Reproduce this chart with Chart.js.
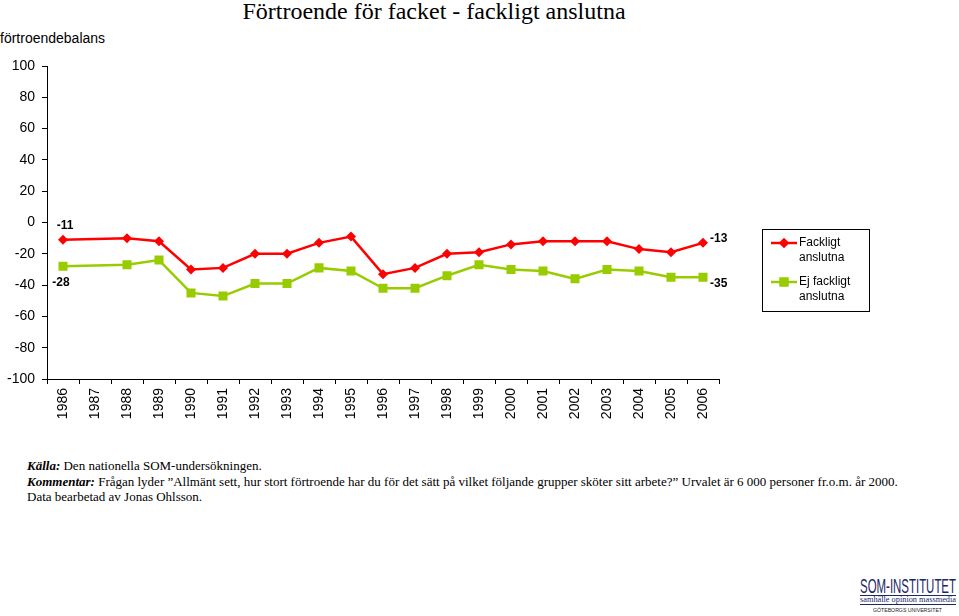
<!DOCTYPE html>
<html>
<head>
<meta charset="utf-8">
<script src="https://cdn.jsdelivr.net/npm/chart.js@4"></script>
<style>
html,body{margin:0;padding:0;background:#fff;}
body{width:959px;height:616px;position:relative;overflow:hidden;font-family:"Liberation Sans",Arial,sans-serif;}
#c{position:absolute;left:0;top:0;}
.title{position:absolute;left:0;width:868px;top:-2px;text-align:center;font-family:"Liberation Serif","Times New Roman",serif;font-size:24px;color:#000;white-space:nowrap;}
.ytitle{position:absolute;left:0;top:30px;font-size:14px;color:#000;}
.foot{position:absolute;left:27px;top:458px;font-family:"Liberation Serif","Times New Roman",serif;font-size:13px;line-height:15.5px;color:#000;white-space:nowrap;}
.lg{position:absolute;white-space:nowrap;display:inline-block;transform-origin:0 0;}
#l1{left:860px;top:575px;font-size:21px;line-height:21px;color:#1c2766;}
#l2{left:860px;top:596px;font-family:"Liberation Serif",serif;font-size:8px;line-height:8px;color:#1c2766;}
#l3{left:873px;top:607px;font-size:6px;line-height:7px;color:#222;}
.rule{position:absolute;left:860px;width:96px;height:1px;background:#1c2766;}
</style>
</head>
<body>
<div class="title">Förtroende för facket - fackligt anslutna</div>
<div class="ytitle">förtroendebalans</div>
<canvas id="c" width="959" height="440"></canvas>
<div class="foot"><b><i>Källa:</i></b> Den nationella SOM-undersökningen.<br><b><i>Kommentar:</i></b> Frågan lyder ”Allmänt sett, hur stort förtroende har du för det sätt på vilket följande grupper sköter sitt arbete?” Urvalet är 6 000 personer fr.o.m. år 2000.<br>Data bearbetad av Jonas Ohlsson.</div>
<span class="lg" id="l1" data-w="96">SOM-INSTITUTET</span>
<div class="rule" style="top:595px"></div>
<span class="lg" id="l2" data-w="96">samhälle opinion massmedia</span>
<div class="rule" style="top:604px"></div>
<span class="lg" id="l3" data-w="69">GÖTEBORGS UNIVERSITET</span>
<script>
const years = ["1986","1987","1988","1989","1990","1991","1992","1993","1994","1995","1996","1997","1998","1999","2000","2001","2002","2003","2004","2005","2006"];
const fackligt = [-11, null, -10, -12, -30, -29, -20, -20, -13, -9, -33, -29, -20, -19, -14, -12, -12, -12, -17, -19, -13];
const ejFackligt = [-28, null, -27, -24, -45, -47, -39, -39, -29, -31, -42, -42, -34, -27, -30, -31, -36, -30, -31, -35, -35];
const seriesNames = ["Fackligt anslutna", "Ej fackligt anslutna"];
const yTicks = [-100, -80, -60, -40, -20, 0, 20, 40, 60, 80, 100];
const RED = "#ff0000", GREEN = "#99cc00";

document.querySelectorAll(".lg").forEach(el => {
  const w = el.getBoundingClientRect().width;
  el.style.transform = "scaleX(" + (parseFloat(el.dataset.w) / w) + ")";
});

const labelPlugin = {
  id: "labels",
  afterDatasetsDraw(chart) {
    const ctx = chart.ctx;
    ctx.save();
    ctx.font = "bold 12px 'Liberation Sans', Arial, sans-serif";
    ctx.fillStyle = "#000";
    ctx.textBaseline = "middle";
    const m0 = chart.getDatasetMeta(0).data, m1 = chart.getDatasetMeta(1).data;
    const last = years.length - 1;
    ctx.textAlign = "center";
    ctx.fillText(String(fackligt[0]), m0[0].x + 2, m0[0].y - 14);
    ctx.fillText(String(ejFackligt[0]), m1[0].x - 2, m1[0].y + 16);
    ctx.textAlign = "left";
    ctx.fillText(String(fackligt[last]), m0[last].x + 7, m0[last].y - 4);
    ctx.fillText(String(ejFackligt[last]), m1[last].x + 7, m1[last].y + 6);
    // legend
    const lx = 762, ly = 229, lw = 107, lh = 82;
    ctx.strokeStyle = "#000"; ctx.lineWidth = 1;
    ctx.strokeRect(lx + 0.5, ly + 0.5, lw, lh);
    ctx.font = "12px 'Liberation Sans', Arial, sans-serif";
    const items = [
      {c: RED, style: "rectRot", r: 5, y: 243, t: ["Fackligt", "anslutna"]},
      {c: GREEN, style: "rect", r: 6.4, y: 282, t: ["Ej fackligt", "anslutna"]}
    ];
    items.forEach(it => {
      ctx.strokeStyle = it.c; ctx.lineWidth = 2.5;
      ctx.beginPath(); ctx.moveTo(771, it.y); ctx.lineTo(797, it.y); ctx.stroke();
      ctx.fillStyle = it.c;
      Chart.helpers.drawPoint(ctx, {pointStyle: it.style, radius: it.r, borderWidth: 0}, 784, it.y);
      ctx.fill();
      ctx.fillStyle = "#000";
      ctx.fillText(it.t[0], 799, it.y);
      ctx.fillText(it.t[1], 799, it.y + 15);
    });
    ctx.restore();
  }
};

new Chart(document.getElementById("c"), {
  type: "line",
  data: {
    labels: years,
    datasets: [
      {label: seriesNames[0], data: fackligt, borderColor: RED, backgroundColor: RED, borderWidth: 2.5,
       pointStyle: "rectRot", pointRadius: 5, pointBorderWidth: 0, pointBackgroundColor: RED, spanGaps: true, tension: 0},
      {label: seriesNames[1], data: ejFackligt, borderColor: GREEN, backgroundColor: GREEN, borderWidth: 2.5,
       pointStyle: "rect", pointRadius: 6.4, pointBorderWidth: 0, pointBackgroundColor: GREEN, spanGaps: true, tension: 0}
    ]
  },
  options: {
    responsive: false,
    animation: false,
    devicePixelRatio: 1,
    layout: {padding: {top: 66, right: 240, left: 0, bottom: 0}},
    plugins: {legend: {display: false}, tooltip: {enabled: false}, title: {display: false}},
    scales: {
      x: {
        type: "category",
        offset: true,
        grid: {display: true, drawOnChartArea: false, drawTicks: true, tickLength: 5, color: "#000", offset: true},
        border: {display: true, color: "#000", width: 1},
        ticks: {autoSkip: false, minRotation: 90, maxRotation: 90, color: "#000", padding: 4,
                font: {family: "'Liberation Sans', Arial, sans-serif", size: 14}},
        afterFit(s) { s.height = 61; }
      },
      y: {
        min: -100, max: 100,
        afterBuildTicks(s) { s.ticks = yTicks.map(v => ({value: v})); },
        grid: {display: true, drawOnChartArea: false, drawTicks: true, tickLength: 5, color: "#000"},
        border: {display: true, color: "#000", width: 1},
        ticks: {color: "#000", padding: 7, font: {family: "'Liberation Sans', Arial, sans-serif", size: 14}},
        afterFit(s) { s.width = 47; }
      }
    }
  },
  plugins: [labelPlugin]
});
</script>
</body>
</html>
